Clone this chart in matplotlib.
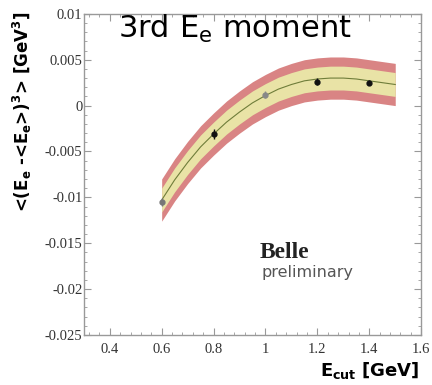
import numpy as np
import matplotlib
matplotlib.use("Agg")
import matplotlib.pyplot as plt
from matplotlib.ticker import MultipleLocator

# Measured third moment vs. lepton energy cut
e_cut = [0.6, 0.8, 1.0, 1.2, 1.4]
moment3 = [-0.0105, -0.0031, 0.0012, 0.0026, 0.0025]
moment3_err = [0.0004, 0.0005, 0.0004, 0.0004, 0.0003]
point_colors = ["#777777", "#111111", "#888888", "#111111", "#111111"]

# Fit prediction: central curve with inner (experimental) and outer (total) bands
fit_x = [0.60, 0.65, 0.70, 0.75, 0.80, 0.85, 0.90, 0.95, 1.00, 1.05,
         1.10, 1.15, 1.20, 1.25, 1.30, 1.35, 1.40, 1.45, 1.50]
fit_center = [-0.0103, -0.0081, -0.0062, -0.0045, -0.0031, -0.0018, -0.0007,
              0.0003, 0.0011, 0.0018, 0.0023, 0.0027, 0.0029, 0.0030, 0.0030,
              0.0029, 0.0027, 0.0025, 0.0023]
inner_halfwidth = 0.0013
outer_halfwidth = 0.0023

x_ticks = [0.4, 0.6, 0.8, 1.0, 1.2, 1.4, 1.6]
x_ticklabels = ["0.4", "0.6", "0.8", "1", "1.2", "1.4", "1.6"]
y_ticks = [-0.025, -0.02, -0.015, -0.01, -0.005, 0.0, 0.005, 0.01]
y_ticklabels = ["-0.025", "-0.02", "-0.015", "-0.01", "-0.005", "0", "0.005", "0.01"]

fig = plt.figure(figsize=(4.32, 3.85), dpi=100)
ax = fig.add_axes([0.194, 0.130, 0.781, 0.834])

fx = np.array(fit_x)
fc = np.array(fit_center)
ax.fill_between(fx, fc - outer_halfwidth, fc + outer_halfwidth,
                color="#d98484", lw=0, zorder=1)
ax.fill_between(fx, fc - inner_halfwidth, fc + inner_halfwidth,
                color="#e9e3a6", lw=0, zorder=2)
ax.plot(fx, fc, color="#6f7d3a", lw=0.8, zorder=3)

for xv, yv, ev, c in zip(e_cut, moment3, moment3_err, point_colors):
    ax.errorbar(xv, yv, yerr=ev, fmt="o", ms=3.5, color=c, ecolor=c,
                elinewidth=1, capsize=0, zorder=4)

ax.set_xlim(0.3, 1.6)
ax.set_ylim(-0.025, 0.01)
ax.set_xticks(x_ticks)
ax.set_xticklabels(x_ticklabels)
ax.set_yticks(y_ticks)
ax.set_yticklabels(y_ticklabels)
ax.xaxis.set_minor_locator(MultipleLocator(0.04))
ax.yaxis.set_minor_locator(MultipleLocator(0.001))

for s in ax.spines.values():
    s.set_color("#999999")
    s.set_linewidth(1.0)
ax.tick_params(which="both", direction="in", top=True, right=True,
               color="#999999", labelcolor="#333333")
ax.tick_params(which="major", length=5, width=0.8)
ax.tick_params(which="minor", length=2.5, width=0.6)
ax.tick_params(axis="y", pad=1)
ax.tick_params(axis="x", pad=6)
for lab in ax.get_xticklabels() + ax.get_yticklabels():
    lab.set_fontfamily("Liberation Serif")
    lab.set_fontsize(10.5)

fig.text(0.272, 0.925, "3rd E$_\\mathregular{e}$ moment", fontsize=22,
         color="black", ha="left", va="center")

fig.text(0.052, 0.71, "<(E$_\\mathbf{e}$ -<E$_\\mathbf{e}$>)$^\\mathbf{3}$> [GeV$^\\mathbf{3}$]",
         rotation=90, ha="center", va="center", fontsize=12, fontweight="bold")

fig.text(0.972, 0.038, "E$_\\mathbf{cut}$ [GeV]", ha="right", va="center",
         fontsize=13, fontweight="bold")

fig.text(0.602, 0.345, "Belle", family="Liberation Serif", fontweight="bold",
         fontsize=17, color="#222222", ha="left", va="center")
fig.text(0.605, 0.292, "preliminary", fontsize=11.5, color="#555555",
         ha="left", va="center")

fig.savefig("out.png", dpi=100)
